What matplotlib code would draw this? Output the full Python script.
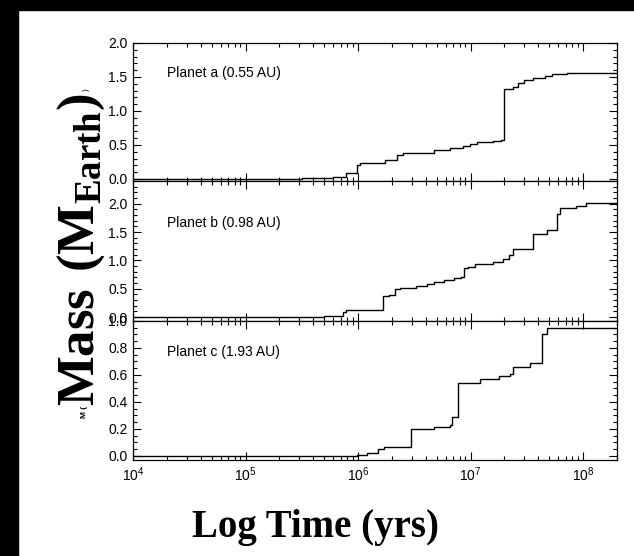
import matplotlib
matplotlib.use("Agg")
import matplotlib.pyplot as plt
from matplotlib.patches import Rectangle
from matplotlib.ticker import LogLocator, MultipleLocator, NullFormatter

plt.rcParams['font.family'] = 'Liberation Sans'
plt.rcParams['mathtext.fontset'] = 'custom'
plt.rcParams['mathtext.rm'] = 'Liberation Serif'
plt.rcParams['mathtext.bf'] = 'Liberation Serif:bold'

# accretion histories: time (yr) of each step and mass (Earth masses) after it
time_a = [1e4, 1.0e5, 3.2e5, 6.0e5, 7.8e5, 9.8e5, 1.05e6, 1.74e6, 2.24e6, 2.5e6,
          4.7e6, 6.6e6, 8.5e6, 9.8e6, 1.15e7, 1.58e7, 1.86e7, 2.0e7, 2.4e7,
          2.63e7, 3.0e7, 3.55e7, 4.6e7, 5.25e7, 7.2e7, 7.6e7, 2e8]
mass_a = [0.0, 0.005, 0.01, 0.03, 0.09, 0.21, 0.24, 0.28, 0.35, 0.38,
          0.43, 0.45, 0.48, 0.51, 0.55, 0.56, 0.57, 1.33, 1.36,
          1.41, 1.46, 1.49, 1.51, 1.54, 1.555, 1.56, 1.56]

time_b = [1e4, 1.0e5, 5.0e5, 7.4e5, 7.8e5, 1.66e6, 1.9e6, 2.14e6, 2.34e6, 3.3e6,
          4.1e6, 4.7e6, 5.75e6, 7.1e6, 8.3e6, 8.7e6, 9.5e6, 1.1e7, 1.58e7,
          1.95e7, 2.2e7, 2.4e7, 3.55e7, 4.8e7, 5.9e7, 6.2e7, 8.7e7, 1.07e8,
          1.4e8, 2e8]
mass_b = [0.0, 0.005, 0.02, 0.09, 0.12, 0.37, 0.39, 0.50, 0.52, 0.54,
          0.58, 0.62, 0.65, 0.68, 0.71, 0.87, 0.89, 0.94, 0.97,
          1.03, 1.09, 1.20, 1.46, 1.53, 1.82, 1.92, 1.96, 2.01,
          2.02, 2.02]

time_c = [1e4, 9.8e5, 1.2e6, 1.5e6, 1.7e6, 2.4e6, 2.95e6, 4.7e6, 6.6e6, 6.8e6,
          7.8e6, 1.2e7, 1.8e7, 2.24e7, 2.4e7, 3.4e7, 4.3e7, 4.8e7, 2e8]
mass_c = [0.0, 0.01, 0.025, 0.05, 0.065, 0.07, 0.20, 0.215, 0.23, 0.29,
          0.54, 0.57, 0.59, 0.61, 0.66, 0.69, 0.90, 0.946, 0.946]

labels = ['Planet a (0.55 AU)', 'Planet b (0.98 AU)', 'Planet c (1.93 AU)']

W, H = 634, 556
fig = plt.figure(figsize=(W / 100, H / 100), dpi=100)
fig.patch.set_facecolor('white')
# black frame strips on top and left
fig.add_artist(Rectangle((0, 1 - 10 / H), 1, 10 / H, transform=fig.transFigure,
                         color='black', zorder=-1))
fig.add_artist(Rectangle((0, 0), 18 / W, 1, transform=fig.transFigure,
                         color='black', zorder=-1))

left, right = 133 / W, 617 / W
edges = [43, 181, 321, 460]
ylims = [(-0.03, 2.0), (-0.07, 2.4), (-0.03, 1.0)]
ymajor = [0.5, 0.5, 0.2]
yminor = [0.1, 0.1, 0.05]
text_y = [0.78, 0.70, 0.78]
series = [(time_a, mass_a), (time_b, mass_b), (time_c, mass_c)]

for i, (t, m) in enumerate(series):
    bottom = 1 - edges[i + 1] / H
    height = (edges[i + 1] - edges[i]) / H
    ax = fig.add_axes([left, bottom, right - left, height])
    ax.step(t, m, where='post', color='black', lw=1.0)
    ax.set_xscale('log')
    ax.set_xlim(1e4, 2e8)
    ax.set_ylim(*ylims[i])
    ax.yaxis.set_major_locator(MultipleLocator(ymajor[i]))
    ax.yaxis.set_minor_locator(MultipleLocator(yminor[i]))
    ax.yaxis.set_major_formatter(plt.FormatStrFormatter('%.1f'))
    ax.xaxis.set_major_locator(LogLocator(base=10))
    ax.xaxis.set_minor_locator(LogLocator(base=10, subs=range(2, 10)))
    ax.xaxis.set_minor_formatter(NullFormatter())
    ax.tick_params(which='both', direction='in', top=True, right=True,
                   width=0.8, labelsize=10, pad=4)
    ax.tick_params(which='major', length=6)
    ax.tick_params(which='minor', length=3)
    for s in ax.spines.values():
        s.set_linewidth(0.9)
    if i < 2:
        ax.tick_params(axis='x', labelbottom=False)
    ax.text(0.07, text_y[i], labels[i], transform=ax.transAxes, fontsize=10,
            va='center', ha='left')

fig.text(81 / W, 1 - 250 / H, r'$\mathbf{Mass\ (M_{Earth})}$', rotation=90,
         fontsize=38, ha='center', va='center')
fig.text(84 / W, 1 - 412 / H, 'M (', rotation=90, fontsize=6,
         ha='center', va='center', fontweight='bold')
fig.text(86 / W, 1 - 90 / H, ')', rotation=90, fontsize=6,
         ha='center', va='center')
fig.text(315 / W, 1 - 527 / H, 'Log Time (yrs)', family='Liberation Serif',
         fontweight='bold', fontsize=28, ha='center', va='center')

fig.savefig('out.png', dpi=100)
